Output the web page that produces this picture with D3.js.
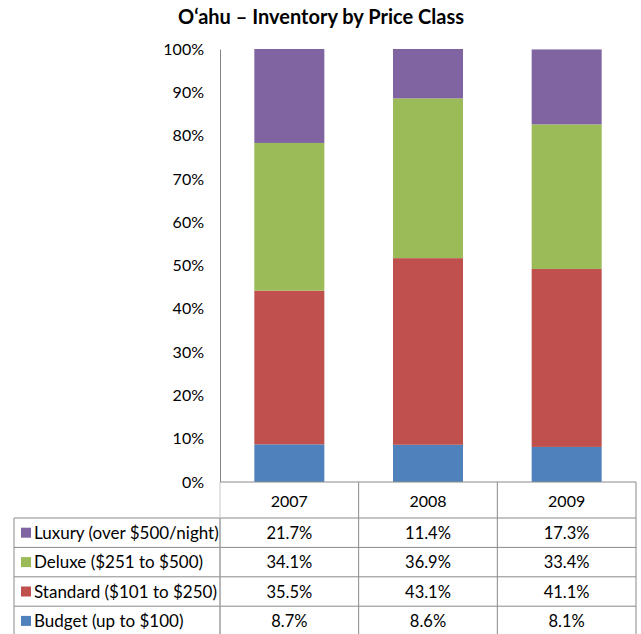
<!DOCTYPE html>
<html>
<head>
<meta charset="utf-8">
<script src="https://cdn.jsdelivr.net/npm/d3@7"></script>
<style>
  body { margin: 0; background: #fff; }
  text { font-family: Lato, "Open Sans", sans-serif; fill: #000; }
</style>
</head>
<body>
<div id="chart"></div>
<script>
// data
const years = ["2007", "2008", "2009"];
const seriesKeys = ["budget", "standard", "deluxe", "luxury"];
const seriesLabels = ["Budget (up to $100)", "Standard ($101 to $250)", "Deluxe ($251 to $500)", "Luxury (over $500/night)"];
const budget = [8.7, 8.6, 8.1];
const standard = [35.5, 43.1, 41.1];
const deluxe = [34.1, 36.9, 33.4];
const luxury = [21.7, 11.4, 17.3];
const yTicks = [0, 10, 20, 30, 40, 50, 60, 70, 80, 90, 100];
const colors = ["#4F81BD", "#C0504D", "#9BBB59", "#8064A2"];

const width = 641, height = 634;
const plot = {left: 220, right: 636, top: 49, bottom: 482};

const svg = d3.select("#chart").append("svg")
    .attr("width", width)
    .attr("height", height);

const rows = years.map((yr, i) => ({year: yr, budget: budget[i], standard: standard[i], deluxe: deluxe[i], luxury: luxury[i]}));
const stacked = d3.stack().keys(seriesKeys)(rows);

let x = d3.scaleBand()
    .domain(years)
    .range([plot.left, plot.right])
    .paddingInner(0)
    .paddingOuter(0);

let y = d3.scaleLinear()
    .domain([0, 100])
    .range([plot.bottom, plot.top]);

// title
svg.append("text")
    .attr("x", 321)
    .attr("y", 24)
    .attr("text-anchor", "middle")
    .style("font-size", "20px")
    .style("font-weight", "bold")
    .text("O\u2018ahu \u2013 Inventory by Price Class");

// bars
const barW = 70;
svg.selectAll(".layer")
    .data(stacked)
    .enter().append("g")
    .attr("class", "layer")
    .attr("fill", (d, i) => colors[i])
    .selectAll("rect")
    .data(d => d)
    .enter().append("rect")
    .attr("x", d => x(d.data.year) + x.bandwidth() / 2 - barW / 2)
    .attr("y", d => y(d[1]))
    .attr("height", d => y(d[0]) - y(d[1]))
    .attr("width", barW);

// y axis
const yAxis = svg.append("g")
    .attr("transform", `translate(${plot.left}, 0)`)
    .call(d3.axisLeft(y).tickValues(yTicks).tickFormat(d => d + "%").tickSize(0).tickPadding(16));
yAxis.select(".domain").attr("stroke", "#868686");
yAxis.selectAll("text")
    .style("font-size", "16px")
    .style("font-family", "Lato, sans-serif")
    .attr("fill", "#000");

// data table
const headerH = 36, rowH = 29.4;
const tableLeft = 14;
const gridColor = "#8a8a8a";
const tbl = svg.append("g");

// header row lines
tbl.append("line")
    .attr("x1", plot.left).attr("x2", plot.right)
    .attr("y1", plot.bottom).attr("y2", plot.bottom)
    .attr("stroke", gridColor);
years.forEach((yr, i) => {
    tbl.append("text")
        .attr("x", x(yr) + x.bandwidth() / 2)
        .attr("y", plot.bottom + 25)
        .attr("text-anchor", "middle")
        .style("font-size", "16px")
        .text(yr);
});

// legend rows, top row is luxury
const order = [3, 2, 1, 0];
const values = [budget, standard, deluxe, luxury];
const rowTop = plot.bottom + headerH;
order.forEach((s, r) => {
    const ty = rowTop + r * rowH;
    tbl.append("line")
        .attr("x1", tableLeft).attr("x2", plot.right)
        .attr("y1", ty).attr("y2", ty)
        .attr("stroke", gridColor);
    tbl.append("rect")
        .attr("x", tableLeft + 7)
        .attr("y", ty + rowH / 2 - 5)
        .attr("width", 10).attr("height", 10)
        .attr("fill", colors[s]);
    tbl.append("text")
        .attr("x", tableLeft + 20)
        .attr("y", ty + rowH / 2 + 6)
        .style("font-size", "17px")
        .text(seriesLabels[s]);
    years.forEach((yr, i) => {
        tbl.append("text")
            .attr("x", x(yr) + x.bandwidth() / 2)
            .attr("y", ty + rowH / 2 + 6)
            .attr("text-anchor", "middle")
            .style("font-size", "16.5px")
            .text(values[s][i].toFixed(1) + "%");
    });
});
const tableBottom = rowTop + order.length * rowH;
tbl.append("line")
    .attr("x1", tableLeft).attr("x2", plot.right)
    .attr("y1", tableBottom).attr("y2", tableBottom)
    .attr("stroke", gridColor);

// vertical lines
tbl.append("line")
    .attr("x1", tableLeft).attr("x2", tableLeft)
    .attr("y1", rowTop).attr("y2", tableBottom)
    .attr("stroke", gridColor);
[plot.left].concat(years.map(yr => x(yr) + x.bandwidth())).forEach((vx, i) => {
    tbl.append("line")
        .attr("x1", vx).attr("x2", vx)
        .attr("y1", plot.bottom).attr("y2", tableBottom)
        .attr("stroke", i === 0 ? "#c8c8c8" : gridColor);
});
tbl.append("line")
    .attr("x1", plot.left).attr("x2", plot.left)
    .attr("y1", rowTop).attr("y2", tableBottom)
    .attr("stroke", gridColor);
</script>
</body>
</html>
